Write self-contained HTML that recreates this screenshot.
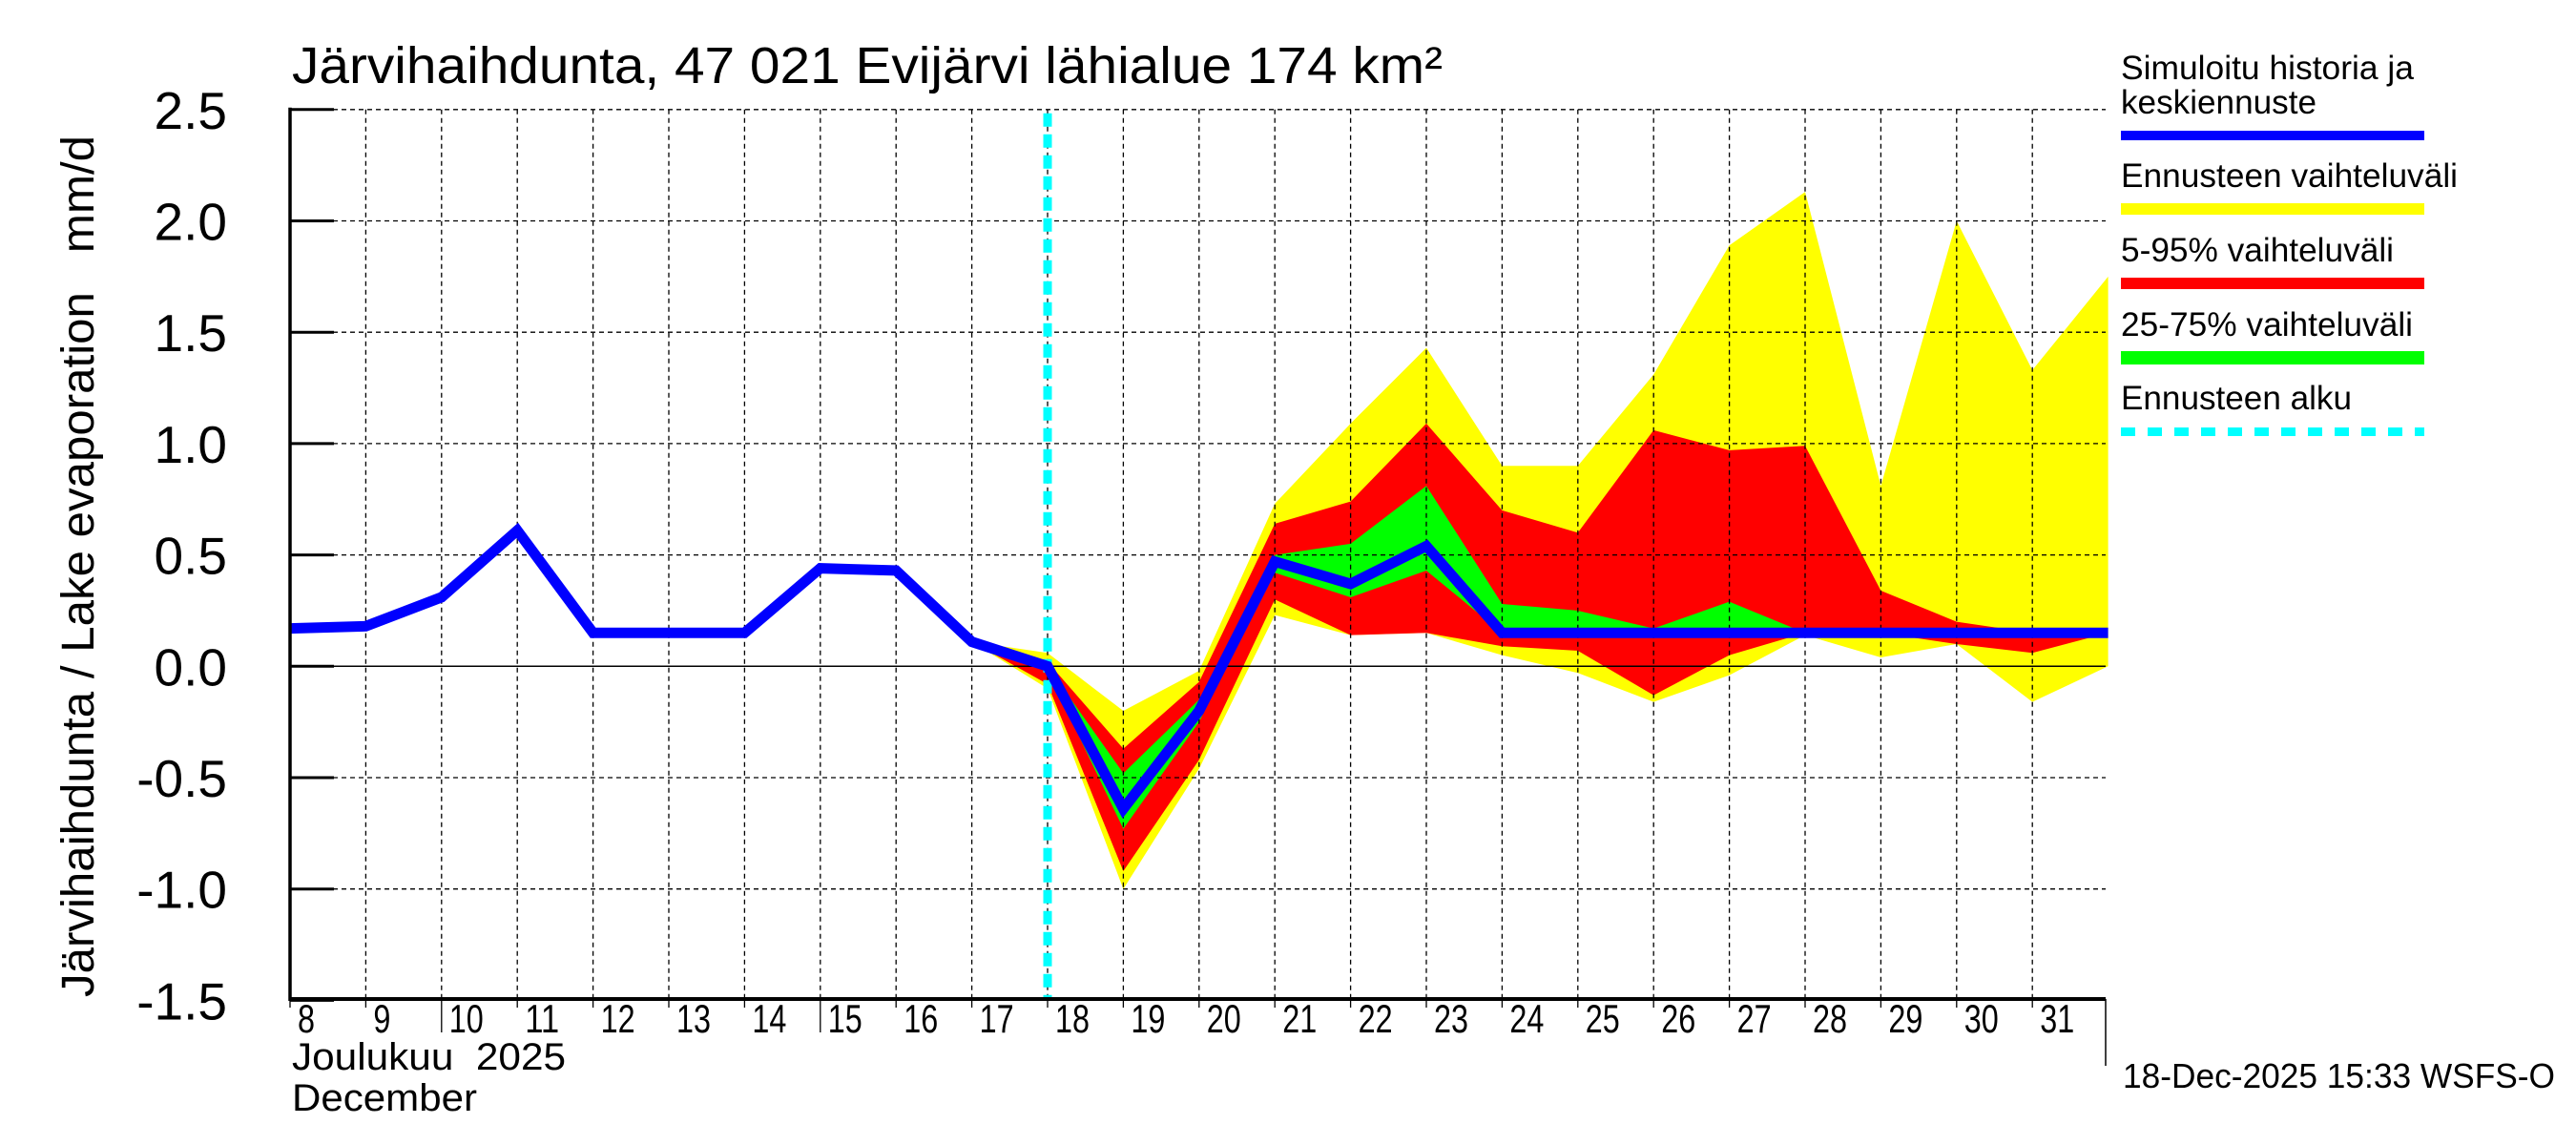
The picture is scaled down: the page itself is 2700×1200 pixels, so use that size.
<!DOCTYPE html>
<html><head><meta charset="utf-8"><style>
html,body{margin:0;padding:0;background:#fff;}
svg{display:block;font-family:"Liberation Sans",sans-serif;}
</style></head><body>
<svg id="chart" width="2700" height="1200" viewBox="0 0 2700 1200" xmlns="http://www.w3.org/2000/svg">
<rect width="2700" height="1200" fill="#fff"/>
<g id="bands"></g>
<g id="grid"></g>
<g id="series"></g>
<g id="axes"></g>
<text x="306" y="87" font-size="54" textLength="1206" lengthAdjust="spacingAndGlyphs">Järvihaihdunta, 47 021 Evijärvi lähialue 174 km²</text>
<text transform="translate(98,1045) rotate(-90)" font-size="48" textLength="903" lengthAdjust="spacingAndGlyphs">Järvihaihdunta / Lake evaporation&#160;&#160;&#160;mm/d</text>
<text x="306" y="1121" font-size="40" textLength="287" lengthAdjust="spacingAndGlyphs">Joulukuu&#160;&#160;2025</text>
<text x="306" y="1164" font-size="40" textLength="194" lengthAdjust="spacingAndGlyphs">December</text>
<text x="2225" y="1140" font-size="36" textLength="453" lengthAdjust="spacingAndGlyphs">18-Dec-2025 15:33 WSFS-O</text>
<g>
<text x="2223" y="83" font-size="35" textLength="307" lengthAdjust="spacingAndGlyphs">Simuloitu historia ja</text>
<text x="2223" y="119" font-size="35" textLength="205" lengthAdjust="spacingAndGlyphs">keskiennuste</text>
<rect x="2223" y="137" width="318" height="10" fill="#0000ff"/>
<text x="2223" y="196" font-size="35" textLength="353" lengthAdjust="spacingAndGlyphs">Ennusteen vaihteluväli</text>
<rect x="2223" y="213" width="318" height="12" fill="#ffff00"/>
<text x="2223" y="274" font-size="35" textLength="286" lengthAdjust="spacingAndGlyphs">5-95% vaihteluväli</text>
<rect x="2223" y="291" width="318" height="12" fill="#ff0000"/>
<text x="2223" y="352" font-size="35" textLength="306" lengthAdjust="spacingAndGlyphs">25-75% vaihteluväli</text>
<rect x="2223" y="368" width="318" height="14" fill="#00ff00"/>
<text x="2223" y="429" font-size="35" textLength="242" lengthAdjust="spacingAndGlyphs">Ennusteen alku</text>
<line x1="2223" y1="452.5" x2="2541" y2="452.5" stroke="#00ffff" stroke-width="9" stroke-dasharray="15 13"/>
</g>
</svg>
<script>
// Data
const days = [8,9,10,11,12,13,14,15,16,17,18,19,20,21,22,23,24,25,26,27,28,29,30,31,32];
const dayLabels = ["8","9","10","11","12","13","14","15","16","17","18","19","20","21","22","23","24","25","26","27","28","29","30","31"];
const yTicks = [2.5,2.0,1.5,1.0,0.5,0.0,-0.5,-1.0,-1.5];
const yTickLabels = ["2.5","2.0","1.5","1.0","0.5","0.0","-0.5","-1.0","-1.5"];
const meanSeries = [0.17,0.18,0.31,0.61,0.15,0.15,0.15,0.44,0.43,0.11,0.0,-0.64,-0.2,0.47,0.37,0.54,0.15,0.15,0.15,0.15,0.15,0.15,0.15,0.15,0.15];
const forecastDays = [17,18,19,20,21,22,23,24,25,26,27,28,29,30,31,32];
const rangeMax = [0.11,0.06,-0.2,-0.02,0.73,1.09,1.43,0.9,0.9,1.31,1.89,2.13,0.81,2.0,1.33,1.75];
const rangeMin = [0.11,-0.1,-1.0,-0.46,0.23,0.14,0.15,0.05,-0.03,-0.16,-0.04,0.14,0.04,0.1,-0.16,0.0];
const p95 = [0.11,0.02,-0.37,-0.07,0.64,0.74,1.09,0.7,0.6,1.06,0.97,0.99,0.34,0.2,0.15,0.15];
const p05 = [0.11,-0.08,-0.92,-0.42,0.3,0.14,0.15,0.09,0.07,-0.13,0.05,0.15,0.15,0.1,0.06,0.15];
const p75 = [0.11,0.0,-0.48,-0.15,0.5,0.55,0.81,0.28,0.25,0.17,0.29,0.15,0.15,0.15,0.15,0.15];
const p25 = [0.11,-0.02,-0.73,-0.25,0.42,0.31,0.43,0.15,0.15,0.15,0.15,0.15,0.15,0.15,0.15,0.15];
const forecastStart = 18;

const NS="http://www.w3.org/2000/svg";
const X0=304, DX=79.4, Y0=698.3, DY=233.4, XL=304, XR=2207, YT=114.7, YB=1047;
function xs(d){return X0+(d-8)*DX;}
function ys(v){return Y0-v*DY;}
function mk(tag,attrs,parent){const e=document.createElementNS(NS,tag);for(const k in attrs)e.setAttribute(k,attrs[k]);parent.appendChild(e);return e;}

const bands=document.getElementById('bands');
function band(up,lo,color,name){
  let pts=forecastDays.map((d,i)=>xs(d)+","+ys(up[i]));
  for(let i=forecastDays.length-1;i>=0;i--)pts.push(xs(forecastDays[i])+","+ys(lo[i]));
  const p=mk('polygon',{points:pts.join(' '),fill:color},bands);
  
  
}
band(rangeMax,rangeMin,'#ffff00','band-forecast-range');
band(p95,p05,'#ff0000','band-5-95');
band(p75,p25,'#00ff00','band-25-75');

const grid=document.getElementById('grid');
yTicks.forEach((v,i)=>{
  const y=ys(v);
  if(v!==-1.5){
    const l=mk('line',{x1:XL,x2:XR,y1:y,y2:y,stroke:'#000','stroke-width':v===0?1.5:1.3,'stroke-dasharray':v===0?'none':'5 4'},grid);
    
    
  }
  const t=mk('line',{x1:XL,x2:XL+46,y1:y,y2:y,stroke:'#000','stroke-width':3},grid);
  
  
  const tx=mk('text',{x:238,y:y+20,'font-size':55,'text-anchor':'end'},grid);
  tx.textContent=yTickLabels[i];
  
  
});
dayLabels.forEach((lab,i)=>{
  const d=days[i], x=xs(d);
  if(i>0){
    const l=mk('line',{x1:x,x2:x,y1:YT,y2:YB,stroke:'#000','stroke-width':1.3,'stroke-dasharray':'5 4'},grid);
    
    
  }
  const tk=mk('line',{x1:x,x2:x,y1:YB,y2:(d===10||d===15)?1082:1056,stroke:'#000','stroke-width':1.3},grid);
  
  
  const t=mk('text',{x:x+8,y:1082,'font-size':42,textLength:lab.length*18,lengthAdjust:'spacingAndGlyphs'},grid);
  t.textContent=lab;
  
  
});

const series=document.getElementById('series');
const fl=mk('line',{x1:xs(forecastStart),x2:xs(forecastStart),y1:YT+4,y2:YB,stroke:'#00ffff','stroke-width':9,'stroke-dasharray':'14 8'},series);


const ml=mk('polyline',{points:days.map((d,i)=>xs(d)+","+ys(meanSeries[i])).join(' '),fill:'none',stroke:'#0000ff','stroke-width':11,'stroke-linejoin':'miter'},series);



const axes=document.getElementById('axes');
const ya=mk('line',{x1:XL,x2:XL,y1:YT-2,y2:YB+2,stroke:'#000','stroke-width':3.5},axes);


const xa=mk('line',{x1:XL,x2:XR,y1:YB,y2:YB,stroke:'#000','stroke-width':4},axes);


const ra=mk('line',{x1:XR,x2:XR,y1:YB,y2:1117,stroke:'#000','stroke-width':1.5},axes);


</script>
</body></html>
